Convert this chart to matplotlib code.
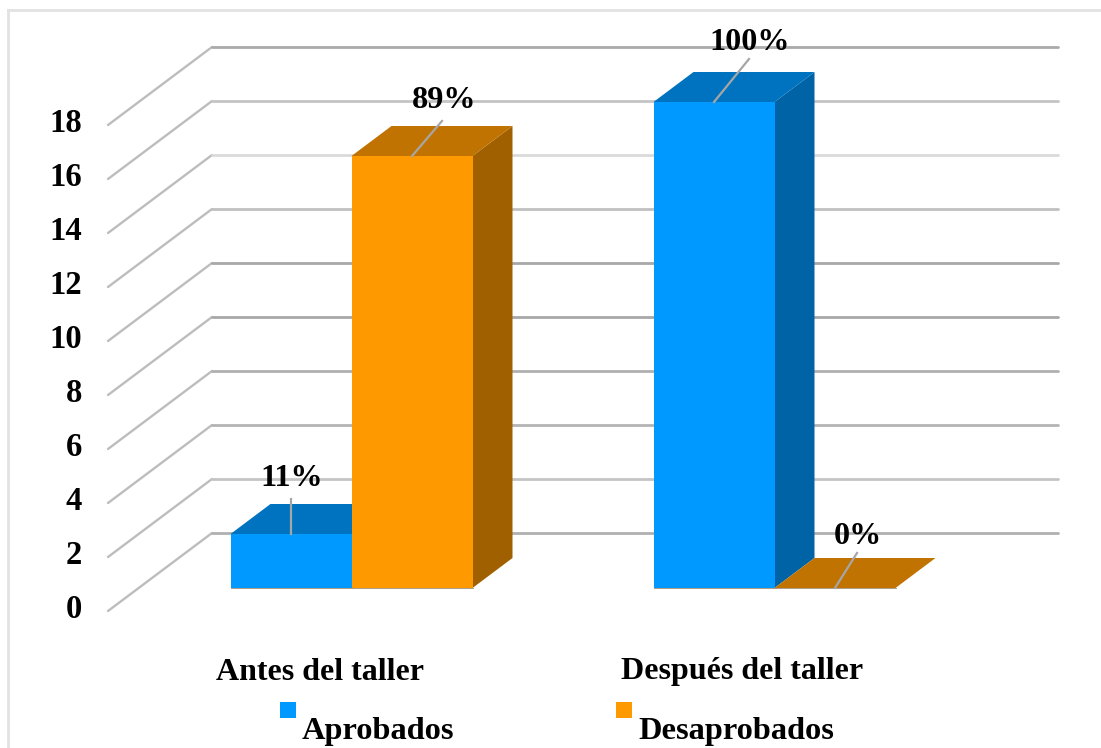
import matplotlib
matplotlib.use("Agg")
import matplotlib.pyplot as plt
from matplotlib.patches import Polygon, Rectangle
from matplotlib.lines import Line2D

categories = ["Antes del taller", "Después del taller"]
series_names = ["Aprobados", "Desaprobados"]
aprobados = [2, 18]
desaprobados = [16, 0]
aprobados_labels = ["11%", "100%"]
desaprobados_labels = ["89%", "0%"]
y_ticks = [0, 2, 4, 6, 8, 10, 12, 14, 16, 18]

W, H = 1101, 748
PX_X = 423.0      # pixels per category step
PX_Y = 27.0       # pixels per value unit
X0, Y0 = 351.5, 588.0  # pixel position of category 0 centre, value 0
BAR_W = 121.0 / PX_X

plt.rcParams["font.family"] = ["Liberation Serif", "DejaVu Serif"]
fig = plt.figure(figsize=(W / 100, H / 100), dpi=100)
ax = fig.add_axes([0, 0, 1, 1])
ax.set_xlim(-X0 / PX_X, (W - X0) / PX_X)
ax.set_ylim(-(H - Y0) / PX_Y, Y0 / PX_Y)
ax.axis("off")


def dx(p):
    return p / PX_X


def dy(p):
    return p / PX_Y  # positive = upward on screen


# outer frame
frame = "#e2e2e2"
ax.add_line(Line2D([dx(8 - X0), dx(W - X0)], [dy(Y0 - 10)] * 2, color=frame, lw=2))
ax.add_line(Line2D([dx(8 - X0)] * 2, [dy(Y0 - 10), dy(Y0 - H)], color=frame, lw=2))

# walls and gridlines
wall_left = dx(212 - X0)
wall_right = dx(1058 - X0)
front_left = dx(108 - X0)
back_up = dy(Y0 - 533.0)
front_down = dy(Y0 - 611.0)
grid_cols = ["#b0b0b0", "#c4c4c4", "#b4b4b4", "#b0b0b0", "#a8a8a8",
             "#a8a8a8", "#c0c0c0", "#dadada", "#c4c4c4", "#aaaaaa"]
for v, col in zip(y_ticks, grid_cols):
    ax.plot([front_left, wall_left], [v + front_down, v + back_up],
            color="#bdbdbd", lw=1.7, solid_capstyle="round", zorder=1)
    ax.plot([wall_left, wall_right], [v + back_up, v + back_up],
            color=col, lw=2.0, solid_capstyle="round", zorder=1)
    ax.text(dx(82 - X0), v + front_down + dy(1), str(v), ha="right", va="center",
            fontsize=23.5, fontweight="bold", color="black", zorder=6)

# 3D bars
DX, DY = dx(40), dy(30)
palette = [("#0099FF", "#0073C0", "#0063A6"), ("#FF9900", "#C07300", "#A06000")]
leaders = [[(0, 35), (35, 43)], [(30, 35), (22, 35)]]
label_gap = [[20, 17], [21, 17]]
label_shift = [[1, 1], [2, 1]]
x_pos = [0, 1]
for s, (vals, labs, sign) in enumerate(
        [(aprobados, aprobados_labels, -1), (desaprobados, desaprobados_labels, 1)]):
    front, top, side = palette[s]
    for i, (v, lab) in enumerate(zip(vals, labs)):
        xc = x_pos[i] + sign * BAR_W / 2
        l, r = xc - BAR_W / 2, xc + BAR_W / 2
        z = 2 + s + 0.1 * i
        ax.add_patch(Polygon([(r, 0), (r + DX, DY), (r + DX, v + DY), (r, v)],
                             closed=True, fc=side, ec="none", zorder=z))
        ax.add_patch(Polygon([(l, v), (l + DX, v + DY), (r + DX, v + DY), (r, v)],
                             closed=True, fc=top, ec="none", zorder=z))
        ax.bar(xc, v, width=BAR_W, color=front, edgecolor="none", zorder=z + 0.01)
        ax.plot([l, r], [0, 0], color="#a08a70", lw=0.6, zorder=z + 0.02)
        lx, ly = leaders[s][i]
        ax.plot([xc, xc + dx(lx)], [v, v + dy(ly)], color="#a6a6a6", lw=1.6, zorder=5)
        ax.text(xc + dx(lx + label_shift[s][i]), v + dy(ly + label_gap[s][i]), lab,
                ha="center", va="center",
                fontsize=23.2, fontweight="bold", color="black", zorder=6)

# category labels
for pos, cat in zip(x_pos, categories):
    ax.text(pos + dx(-31 if pos == 0 else -32), dy(Y0 - 672), cat, ha="center", va="center",
            fontsize=23, fontweight="bold", color="black", zorder=6)

# legend
for name, (front, _, _), sx, tx in zip(series_names, palette, [280, 616], [302, 638]):
    ax.add_patch(Rectangle((dx(sx - X0), dy(Y0 - 718)), dx(16), dy(16), fc=front, ec="none", zorder=6))
    ax.text(dx(tx - X0), dy(Y0 - 731), name, ha="left", va="center",
            fontsize=23.3, fontweight="bold", color="black", zorder=6)

fig.savefig("out.png", dpi=100, facecolor="white")
